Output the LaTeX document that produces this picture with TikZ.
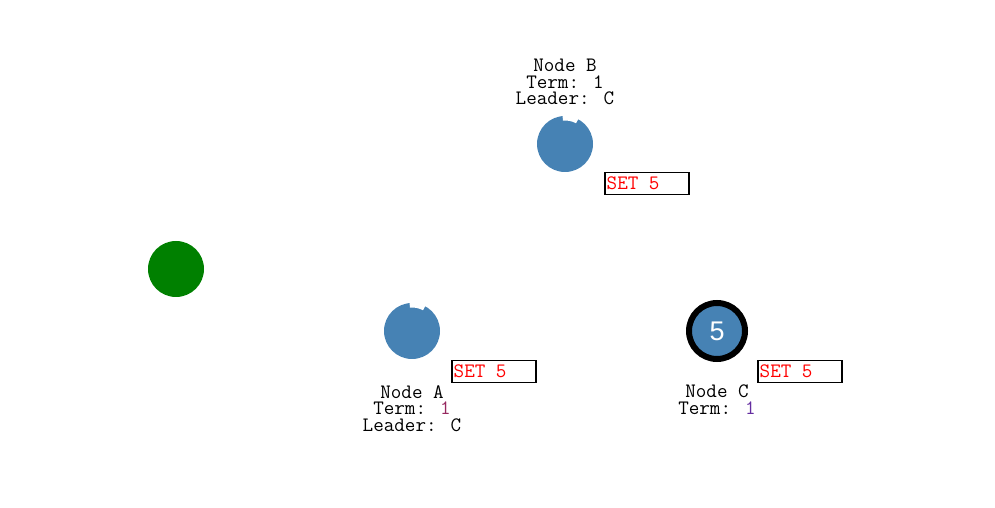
\documentclass[tikz,border=0pt]{standalone}
\usepackage{fontspec}
\newfontfamily\digitfont{Liberation Sans}
\usepackage{tikz}
\usetikzlibrary{positioning,calc}
\usepackage{xcolor}
\definecolor{steelblue}{RGB}{70,130,180}
\definecolor{webgreen}{RGB}{0,128,0}
\definecolor{termA}{RGB}{150,40,95}
\definecolor{termC}{RGB}{100,45,160}

\begin{document}
\begin{tikzpicture}[
    x=1pt, y=1pt,
    peer/.style={circle, fill=steelblue, minimum size=56pt, inner sep=0pt},
    leader/.style={peer, draw=black, line width=6pt, minimum size=56pt, text=white, font=\digitfont\fontsize{27}{27}\selectfont},
    client/.style={circle, fill=webgreen, minimum size=56pt, inner sep=0pt},
    info/.style={anchor=north, align=center, inner sep=0pt, font=\ttfamily\fontsize{20.5}{16.8}\selectfont},
    cmd/.style={draw=black, line width=1.5pt, anchor=north west, minimum width=84pt, minimum height=22pt, inner sep=0pt, text=red}
]
\useasboundingbox (0,0) rectangle (995,508);

% peers
\node[client] (client) at (176,239) {};
\node[peer] (nb) at (565,364) {};
\node[peer] (na) at (412,177) {};
\node[leader] (nc) at (717,177) {5};

% notch on the followers
\foreach \n in {na,nb}
    \fill[white] ($(\n.center)+(62:23.5)$) arc[start angle=62, end angle=95, radius=23.5]
        -- ($(\n.center)+(95:29)$) arc[start angle=95, end angle=62, radius=29] -- cycle;

% state labels
\node[info] (lb) at (565,449.5) {Node B\\ Term: 1\\ Leader: C};
\node[info] (la) at (412,123) {Node A\\ Term: \textcolor{termA}{1}\\ Leader: C};
\node[info] (lc) at (717,123) {Node C\\ Term: \textcolor{termC}{1}};

% log entries
\foreach \c/\x/\y in {cb/604/336, ca/451/148, cc/757/148} {
    \node[cmd] (\c) at (\x,\y) {};
    \node[anchor=base west, inner sep=0pt, text=red, font=\ttfamily\fontsize{20.5}{20.5}\selectfont] at ($(\c.west)+(2.5,-6)$) {SET 5};
}
\end{tikzpicture}
\end{document}
